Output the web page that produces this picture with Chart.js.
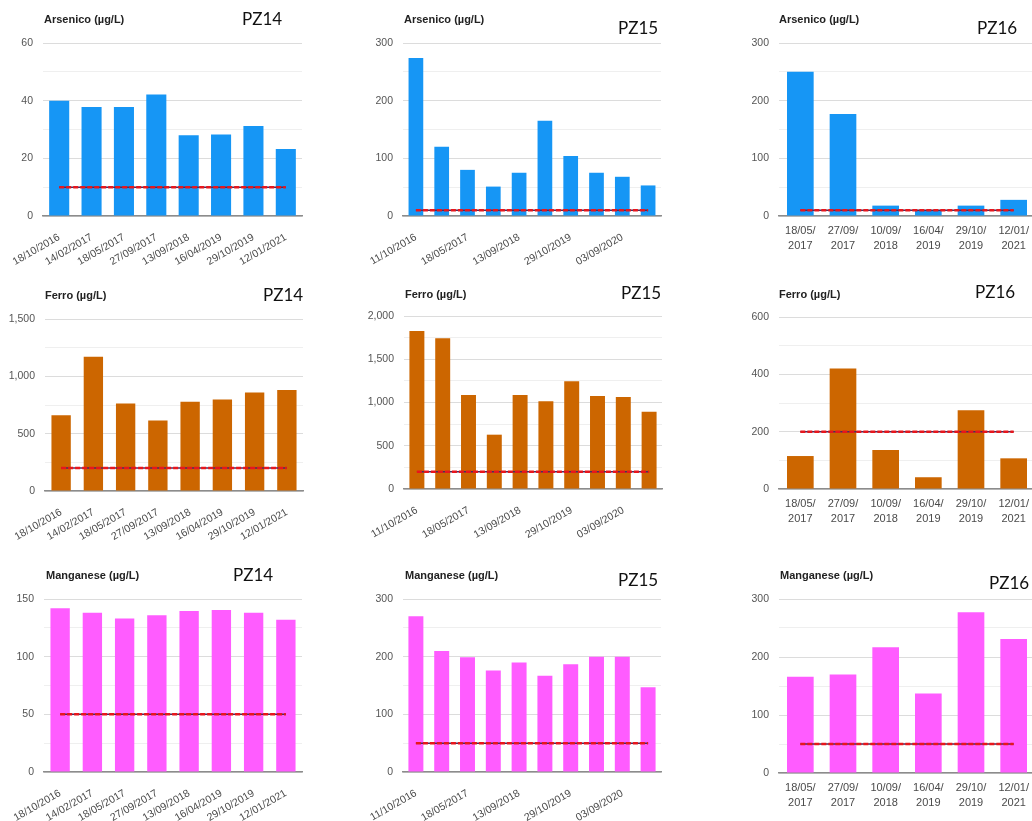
<!DOCTYPE html>
<html><head><meta charset="utf-8">
<script src="https://cdn.jsdelivr.net/npm/chart.js@4.4.0/dist/chart.umd.min.js"></script>
<style>
html,body{margin:0;padding:0;background:#fff;width:1032px;height:821px;overflow:hidden;position:relative;}
canvas{position:absolute;}
.t{position:absolute;font-family:'Liberation Sans',Arial,sans-serif;font-weight:bold;font-size:11px;color:#222;line-height:14px;white-space:nowrap;}
.pz{position:absolute;font-family:Lato,'Open Sans',sans-serif;font-size:17px;color:#111;line-height:20px;white-space:nowrap;}
</style></head><body>
<script>
// ---- categories ----
const pz14Dates = ['18/10/2016','14/02/2017','18/05/2017','27/09/2017','13/09/2018','16/04/2019','29/10/2019','12/01/2021'];
const pz15Dates = ['11/10/2016','','18/05/2017','','13/09/2018','','29/10/2019','','03/09/2020',''];
const pz16Dates = [['18/05/','2017'],['27/09/','2017'],['10/09/','2018'],['16/04/','2019'],['29/10/','2019'],['12/01/','2021']];

// ---- series values (µg/L) ----
const pz14Arsenico  = [40, 37.8, 37.8, 42.1, 28, 28.3, 31.2, 23.2];
const pz15Arsenico  = [274, 120, 80, 51, 75, 165, 104, 75, 68, 53];
const pz16Arsenico  = [250, 177, 18, 9, 18, 28];
const pz14Ferro     = [661, 1171, 763, 615, 778, 798, 860, 880];
const pz15Ferro     = [1827, 1742, 1087, 628, 1087, 1014, 1245, 1075, 1064, 894];
const pz16Ferro     = [115, 420, 136, 41, 275, 107];
const pz14Manganese = [142, 138, 133, 136, 139.5, 140.5, 138, 132];
const pz15Manganese = [270, 210, 199, 176, 190, 167, 187, 200, 200, 147];
const pz16Manganese = [166, 170, 217, 137, 277, 231];

// ---- limit lines (µg/L) ----
const pz14ArsenicoLimit  = [10,10,10,10,10,10,10,10];
const pz15ArsenicoLimit  = [10,10,10,10,10,10,10,10,10,10];
const pz16ArsenicoLimit  = [10,10,10,10,10,10];
const pz14FerroLimit     = [200,200,200,200,200,200,200,200];
const pz15FerroLimit     = [200,200,200,200,200,200,200,200,200,200];
const pz16FerroLimit     = [200,200,200,200,200,200];
const pz14ManganeseLimit = [50,50,50,50,50,50,50,50];
const pz15ManganeseLimit = [50,50,50,50,50,50,50,50,50,50];
const pz16ManganeseLimit = [50,50,50,50,50,50];

// ---- titles ----
const elementTitles = ['Arsenico (µg/L)','Ferro (µg/L)','Manganese (µg/L)'];
const stationTitles = ['PZ14','PZ15','PZ16'];

const BLUE='#1696f5', ORANGE='#cc6600', MAGENTA='#ff5cff';

const specs = [
 {labels:pz14Dates, values:pz14Arsenico, limit:pz14ArsenicoLimit, color:BLUE, max:60, step:10, major:20,
  left:0, pl:43, pr:302, pt:43, pb:216, bar:0.62, rot:30, title:0, st:0, tx:44, ty:19, sx:242, sy:19},
 {labels:pz15Dates, values:pz15Arsenico, limit:pz15ArsenicoLimit, color:BLUE, max:300, step:50, major:100,
  left:344, pl:403, pr:661, pt:43, pb:216, bar:0.57, rot:30, title:0, st:1, tx:404, ty:19, sx:618, sy:28},
 {labels:pz16Dates, values:pz16Arsenico, limit:pz16ArsenicoLimit, color:BLUE, max:300, step:50, major:100,
  left:688, pl:779, pr:1035, pt:43, pb:216, bar:0.625, rot:0, title:0, st:2, tx:779, ty:19, sx:977, sy:28},
 {labels:pz14Dates, values:pz14Ferro, limit:pz14FerroLimit, color:ORANGE, max:1500, step:250, major:500,
  left:0, pl:45, pr:303, pt:319, pb:491, bar:0.6, rot:30, title:1, st:0, tx:45, ty:295, sx:263, sy:295},
 {labels:pz15Dates, values:pz15Ferro, limit:pz15FerroLimit, color:ORANGE, max:2000, step:250, major:500,
  left:344, pl:404, pr:662, pt:316, pb:489, bar:0.58, rot:30, title:1, st:1, tx:405, ty:294, sx:621, sy:293},
 {labels:pz16Dates, values:pz16Ferro, limit:pz16FerroLimit, color:ORANGE, max:600, step:100, major:200,
  left:688, pl:779, pr:1035, pt:317, pb:489, bar:0.625, rot:0, title:1, st:2, tx:779, ty:294, sx:975, sy:292},
 {labels:pz14Dates, values:pz14Manganese, limit:pz14ManganeseLimit, color:MAGENTA, max:150, step:25, major:50,
  left:0, pl:44, pr:302, pt:599, pb:772, bar:0.6, rot:30, title:2, st:0, tx:46, ty:575, sx:233, sy:575},
 {labels:pz15Dates, values:pz15Manganese, limit:pz15ManganeseLimit, color:MAGENTA, max:300, step:50, major:100,
  left:344, pl:403, pr:661, pt:599, pb:772, bar:0.58, rot:30, title:2, st:1, tx:405, ty:575, sx:618, sy:580},
 {labels:pz16Dates, values:pz16Manganese, limit:pz16ManganeseLimit, color:MAGENTA, max:300, step:50, major:100,
  left:688, pl:779, pr:1035, pt:599, pb:773, bar:0.625, rot:0, title:2, st:2, tx:780, ty:575, sx:989, sy:583}
];

const XH = 60, PT = 20;
function makeChart(s){
  const cv = document.createElement('canvas');
  const top = s.pt - PT, w = s.pr + 2 - s.left, h = PT + (s.pb - s.pt) + XH;
  cv.width = w; cv.height = h;
  cv.style.left = s.left + 'px'; cv.style.top = top + 'px';
  cv.style.width = w + 'px'; cv.style.height = h + 'px';
  document.body.appendChild(cv);
  const multi = s.rot === 0;
  new Chart(cv, {
    type: 'bar',
    data: { labels: s.labels, datasets: [
      {type:'line', data:s.limit, borderColor:'#e8161c', borderWidth:2.5, borderDash:[5,2], pointRadius:0, fill:false, order:1},
      {type:'line', data:s.limit, borderColor:'#4b2a5e', borderWidth:1.5, pointRadius:0, fill:false, order:2},
      {type:'bar', data:s.values, backgroundColor:s.color, barPercentage:s.bar, categoryPercentage:1, order:3}
    ]},
    options: {
      responsive:false, animation:false, devicePixelRatio:1,
      layout:{padding:{left:0, top:PT, right:2, bottom:0}},
      plugins:{legend:{display:false}, tooltip:{enabled:false}},
      scales:{
        x:{
          grid:{display:false},
          border:{display:true, color:'#8c8c8c', width:1.5},
          ticks:{autoSkip:false, minRotation:s.rot, maxRotation:s.rot, padding: multi ? 0 : 7, color:'#4a4a4a',
                 font:{family:"'Liberation Sans', Arial, sans-serif", size: multi ? 11 : 10.5, lineHeight: multi ? 1.35 : 1.2}},
          afterFit: sc => { sc.height = XH; }
        },
        y:{
          min:0, max:s.max,
          border:{display:false},
          grid:{drawTicks:false, lineWidth:1,
                color: c => (c.tick && c.tick.value % s.major === 0) ? '#dcdcdc' : '#efefef'},
          ticks:{stepSize:s.step, padding:10, color:'#555',
                 font:{family:"'Liberation Sans', Arial, sans-serif", size:10.5},
                 callback: v => (v % s.major === 0) ? v.toLocaleString('en-US') : ''},
          afterFit: sc => { sc.width = s.pl - s.left; }
        }
      }
    }
  });
  const t = document.createElement('div');
  t.className = 't'; t.textContent = elementTitles[s.title];
  t.style.left = s.tx + 'px'; t.style.top = (s.ty - 7) + 'px';
  document.body.appendChild(t);
  const p = document.createElement('div');
  p.className = 'pz'; p.textContent = stationTitles[s.st];
  p.style.left = s.sx + 'px'; p.style.top = (s.sy - 10) + 'px';
  document.body.appendChild(p);
}
specs.forEach(makeChart);
</script>
</body></html>
